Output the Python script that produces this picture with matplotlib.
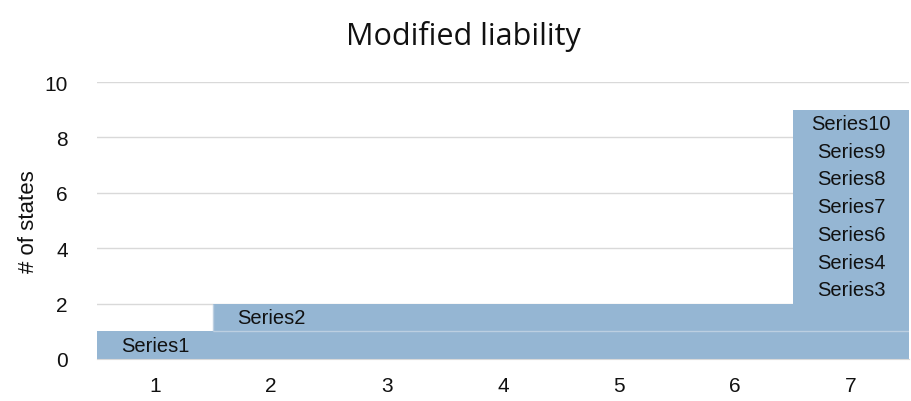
import numpy as np
from matplotlib import pyplot as plt

categories = ['1', '2', '3', '4', '5', '6', '7']
series_names = ['Series1', 'Series2', 'Series3', 'Series4', 'Series6',
                'Series7', 'Series8', 'Series9', 'Series10']
series_values = [
    [1, 1, 1, 1, 1, 1, 1],
    [0, 1, 1, 1, 1, 1, 1],
    [0, 0, 0, 0, 0, 0, 1],
    [0, 0, 0, 0, 0, 0, 1],
    [0, 0, 0, 0, 0, 0, 1],
    [0, 0, 0, 0, 0, 0, 1],
    [0, 0, 0, 0, 0, 0, 1],
    [0, 0, 0, 0, 0, 0, 1],
    [0, 0, 0, 0, 0, 0, 1],
]
y_ticks = [0, 2, 4, 6, 8, 10]

plt.rcParams['font.family'] = ['Liberation Sans', 'DejaVu Sans']
bar_color = '#95b6d3'
sep_color = '#bccfe1'
text_color = '#111111'

fig = plt.figure(figsize=(9.11, 4.02), dpi=100)
ax = fig.add_axes([0.1065, 0.1045, 0.8915, 0.689])

x = np.arange(len(categories))
bottom = np.zeros(len(categories))
for k, (name, vals) in enumerate(zip(series_names, series_values)):
    vals = np.array(vals, dtype=float)
    ax.bar(x, vals, width=1.0, bottom=bottom, color=bar_color,
           edgecolor='none', zorder=2)
    i = int(np.nonzero(vals)[0][0])
    if k == 1:
        # faint outline where Series2 sits on Series1
        ax.hlines(bottom[i], x[i] - 0.5, x[-1] + 0.5, color=sep_color, lw=1, zorder=2.5)
        ax.vlines(x[i] - 0.5, bottom[i], bottom[i] + vals[i], color=sep_color, lw=1, zorder=2.5)
    # label the first point of each series
    ax.text(x[i], bottom[i] + vals[i] / 2, name, ha='center', va='center',
            fontsize=14.5, color=text_color, zorder=3)
    bottom += vals

ax.set_xlim(-0.5, len(categories) - 0.5)
ax.set_ylim(0, 10)
ax.set_xticks(x)
ax.set_xticklabels(categories)
ax.set_yticks(y_ticks)
ax.tick_params(length=0, labelsize=15, colors=text_color)
ax.tick_params(axis='x', pad=12)
ax.tick_params(axis='y', pad=21)
ax.yaxis.grid(True, color='#d9d9d9', linewidth=1.0, zorder=0)
ax.set_axisbelow(True)
for s in ['top', 'right', 'left']:
    ax.spines[s].set_visible(False)
ax.spines['bottom'].set_color('#d9d9d9')
ax.spines['bottom'].set_zorder(4)

ax.set_ylabel('# of states', fontsize=16, color=text_color, labelpad=4)
fig.text(0.509, 0.91, 'Modified liability', fontsize=22, ha='center', va='center',
         family=['Open Sans', 'DejaVu Sans'], color=text_color)

fig.savefig('out.png', dpi=100)
